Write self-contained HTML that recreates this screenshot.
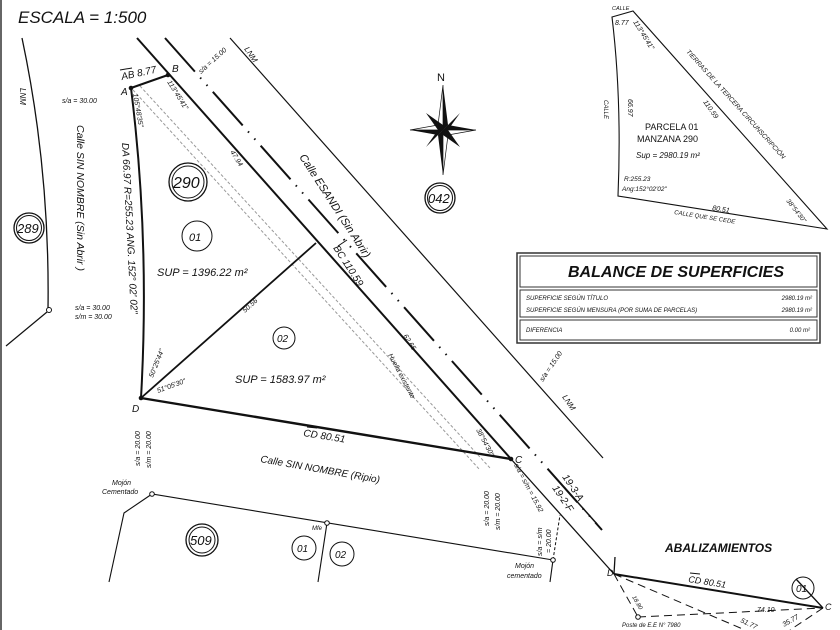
<!DOCTYPE html>
<html><head><meta charset="utf-8"><style>
body{margin:0;background:#fff}
svg{display:block}
text{font-family:"Liberation Sans",sans-serif;font-style:italic;fill:#111}
</style></head><body>
<svg width="840" height="630" viewBox="0 0 840 630" xmlns="http://www.w3.org/2000/svg">
<rect width="840" height="630" fill="#fff"/>
<line x1="1" y1="0" x2="1" y2="630" stroke="#333" stroke-width="1.5"/>
<text x="18" y="23" font-size="17">ESCALA = 1:500</text>

<path d="M22,38 Q50,170 48,310" fill="none" stroke="#111" stroke-width="1.3"/>
<circle cx="49" cy="310" r="2.5" fill="#fff" stroke="#111"/>
<line x1="47" y1="312" x2="6" y2="346" stroke="#111" stroke-width="1.2"/>
<text transform="translate(20,88) rotate(90)" font-size="8">LNM</text>
<text x="62" y="103" font-size="7">s/a = 30.00</text>
<text x="75" y="310" font-size="7">s/a = 30.00</text>
<text x="75" y="319" font-size="7">s/m = 30.00</text>
<text transform="translate(77,125) rotate(90)" font-size="10.5">Calle SIN NOMBRE (Sin Abrir )</text>

<line x1="137" y1="38" x2="511" y2="459" stroke="#111" stroke-width="2"/>
<line x1="511" y1="459" x2="614" y2="574" stroke="#111" stroke-width="1.3"/>
<line x1="165" y1="38" x2="602" y2="530" stroke="#111" stroke-width="2" stroke-dasharray="45 8 1.5 8 1.5 8"/>
<line x1="230" y1="38" x2="603" y2="458" stroke="#111" stroke-width="1.2"/>
<line x1="133" y1="90" x2="480" y2="470" stroke="#999" stroke-width="1" stroke-dasharray="3 2"/>
<line x1="140" y1="86" x2="490" y2="468" stroke="#999" stroke-width="1" stroke-dasharray="3 2"/>

<line x1="131" y1="88" x2="168" y2="75" stroke="#111" stroke-width="2"/>
<path d="M131,88 Q150,240 141,398" fill="none" stroke="#111" stroke-width="2"/>
<line x1="141" y1="398" x2="511" y2="459" stroke="#111" stroke-width="2.4"/>
<line x1="141" y1="398" x2="316" y2="243" stroke="#111" stroke-width="1.8"/>
<circle cx="131" cy="88" r="2.3" fill="#111"/><circle cx="168" cy="75" r="2.3" fill="#111"/>
<circle cx="141" cy="398" r="2.3" fill="#111"/><circle cx="511" cy="459" r="2.3" fill="#111"/>
<text x="121" y="95" font-size="10">A</text>
<text x="172" y="72" font-size="10">B</text>
<text x="132" y="412" font-size="10">D</text>
<text x="515" y="463" font-size="10">C</text>
<text x="122" y="80" font-size="10" transform="rotate(-12 122 80)">AB 8.77</text>
<line x1="120" y1="70" x2="132" y2="68" stroke="#111"/>
<text transform="translate(133,94) rotate(80)" font-size="7">105°48'35"</text>
<text transform="translate(167,82) rotate(58)" font-size="7">113°45'41"</text>
<text transform="translate(122,143) rotate(87)" font-size="10">DA 66.97 R=255.23 ANG. 152° 02' 02"</text>
<text transform="translate(230,152) rotate(58)" font-size="7">47.94</text>
<text transform="translate(299,157) rotate(57)" font-size="11">Calle ESANDI (Sin Abrir)</text>
<text transform="translate(201,74) rotate(-42)" font-size="7">s/a = 15.00</text>
<text transform="translate(244,49) rotate(56)" font-size="8">LNM</text>
<text transform="translate(333,248) rotate(57)" font-size="10">BC 110.59</text>
<line x1="338" y1="246" x2="347" y2="240" stroke="#111"/>
<text transform="translate(245,313) rotate(-42)" font-size="7">50.56</text>
<text transform="translate(403,336) rotate(57)" font-size="7">62.65</text>
<text transform="translate(388,355) rotate(62)" font-size="7">Huella existente</text>
<text transform="translate(476,430) rotate(62)" font-size="7">38°54'30"</text>
<text transform="translate(153,378) rotate(-68)" font-size="7">50°25'44"</text>
<text transform="translate(158,393) rotate(-20)" font-size="7">51°05'30"</text>
<text x="157" y="276" font-size="11">SUP = 1396.22 m²</text>
<text x="235" y="383" font-size="11">SUP = 1583.97 m²</text>
<text transform="translate(303,436) rotate(9)" font-size="10">CD 80.51</text>
<line x1="307" y1="427" x2="317" y2="428" stroke="#111"/>
<text transform="translate(260,462) rotate(10)" font-size="10">Calle SIN NOMBRE (Ripio)</text>
<text transform="translate(543,382) rotate(-56)" font-size="7">s/a = 15.00</text>
<text transform="translate(562,397) rotate(56)" font-size="8">LNM</text>
<text transform="translate(514,465) rotate(62)" font-size="7">s/a = s/m = 15.92</text>
<text transform="translate(562,477) rotate(56)" font-size="10">19-3-A</text>
<text transform="translate(552,488) rotate(56)" font-size="10">19-2-F</text>
<line x1="564" y1="487" x2="597" y2="524" stroke="#111" stroke-width="1.5"/>

<g fill="none" stroke="#111">
<circle cx="188" cy="182" r="19" stroke-width="1.3"/><circle cx="188" cy="182" r="16"/>
<circle cx="29" cy="228" r="15" stroke-width="1.3"/><circle cx="29" cy="228" r="12.5"/>
<circle cx="440" cy="198" r="15" stroke-width="1.3"/><circle cx="440" cy="198" r="12.5"/>
<circle cx="202" cy="540" r="16" stroke-width="1.3"/><circle cx="202" cy="540" r="13"/>
<circle cx="197" cy="236" r="15"/>
<circle cx="284" cy="338" r="11"/>
<circle cx="304" cy="548" r="12"/>
<circle cx="342" cy="554" r="12"/>
<circle cx="803" cy="588" r="11"/>
</g>
<text x="173" y="188" font-size="16">290</text>
<text x="17" y="233" font-size="13">289</text>
<text x="428" y="203" font-size="13">042</text>
<text x="190" y="545" font-size="13">509</text>
<text x="189" y="241" font-size="11">01</text>
<text x="277" y="342" font-size="10">02</text>
<text x="297" y="552" font-size="10">01</text>
<text x="335" y="558" font-size="10">02</text>
<text x="796" y="592" font-size="10">01</text>

<g transform="translate(443,130)">
<text x="-6" y="-49" font-size="11" style="font-style:normal">N</text>
<polygon points="0,-45 5,-5 0,0" fill="#111"/><polygon points="0,-45 -5,-5 0,0" fill="#fff" stroke="#111" stroke-width=".7"/>
<polygon points="0,45 -5,5 0,0" fill="#111"/><polygon points="0,45 5,5 0,0" fill="#fff" stroke="#111" stroke-width=".7"/>
<polygon points="-33,0 -5,5 0,0" fill="#111"/><polygon points="-33,0 -5,-5 0,0" fill="#fff" stroke="#111" stroke-width=".7"/>
<polygon points="33,0 5,-5 0,0" fill="#111"/><polygon points="33,0 5,5 0,0" fill="#fff" stroke="#111" stroke-width=".7"/>
<polygon points="-17,-17 0,-5 0,0 -5,0" fill="#111"/><polygon points="17,-17 5,0 0,0" fill="#111"/>
<polygon points="17,17 0,5 0,0 5,0" fill="#111"/><polygon points="-17,17 -5,0 0,0" fill="#111"/>
</g>

<polyline points="109,582 124,513 152,494 553,560" fill="none" stroke="#111" stroke-width="1.1"/>
<line x1="327" y1="523" x2="318" y2="582" stroke="#111" stroke-width="1.1"/>
<line x1="553" y1="560" x2="550" y2="582" stroke="#111" stroke-width="1.1"/>
<line x1="553" y1="560" x2="560" y2="515" stroke="#111" stroke-dasharray="3 2"/>
<circle cx="152" cy="494" r="2.3" fill="#fff" stroke="#111"/>
<circle cx="327" cy="523" r="2.3" fill="#fff" stroke="#111"/>
<circle cx="553" cy="560" r="2.3" fill="#fff" stroke="#111"/>
<text x="112" y="485" font-size="7">Mojón</text>
<text x="102" y="494" font-size="7">Cementado</text>
<text x="312" y="530" font-size="6">Mfe</text>
<text x="515" y="568" font-size="7">Mojón</text>
<text x="507" y="578" font-size="7">cementado</text>
<text transform="translate(140,466) rotate(-90)" font-size="7">s/a = 20.00</text>
<text transform="translate(151,468) rotate(-90)" font-size="7">s/m = 20.00</text>
<text transform="translate(489,526) rotate(-90)" font-size="7">s/a = 20.00</text>
<text transform="translate(500,530) rotate(-90)" font-size="7">s/m = 20.00</text>
<text transform="translate(542,556) rotate(-90)" font-size="7">s/a = s/m</text>
<text transform="translate(551,553) rotate(-90)" font-size="7">= 20.00</text>

<text x="665" y="552" font-size="12" font-weight="bold">ABALIZAMIENTOS</text>
<line x1="614" y1="574" x2="823" y2="608" stroke="#111" stroke-width="2"/>
<line x1="615" y1="557" x2="614" y2="574" stroke="#111" stroke-width="1.3"/>
<line x1="796" y1="579" x2="823" y2="608" stroke="#111" stroke-width="1.3"/>
<g stroke="#111" stroke-dasharray="8 5" fill="none">
<line x1="614" y1="574" x2="638" y2="617"/>
<line x1="638" y1="617" x2="823" y2="608"/>
<line x1="614" y1="574" x2="745" y2="630"/>
<line x1="823" y1="608" x2="790" y2="630"/>
</g>
<circle cx="638" cy="617" r="2.3" fill="#fff" stroke="#111"/>
<text x="607" y="576" font-size="9">D</text>
<text x="825" y="610" font-size="9">C</text>
<text transform="translate(688,582) rotate(9)" font-size="9">CD 80.51</text>
<line x1="690" y1="573" x2="700" y2="574" stroke="#111"/>
<text x="622" y="627" font-size="6">Poste de E.E N° 7980</text>
<text transform="translate(632,597) rotate(60)" font-size="6">18.80</text>
<text x="757" y="612" font-size="7">74.10</text>
<text transform="translate(740,622) rotate(25)" font-size="7">51.77</text>
<text transform="translate(784,627) rotate(-30)" font-size="7">35.77</text>

<path d="M612,17 L633,11 L827,229 L618,196 Q622,100 612,17 Z" fill="none" stroke="#111" stroke-width="1.1"/>
<text x="612" y="10" font-size="5.5">CALLE</text>
<text x="615" y="25" font-size="7">8.77</text>
<text transform="translate(633,22) rotate(58)" font-size="7">113°45'41"</text>
<text transform="translate(604,100) rotate(90)" font-size="6">CALLE</text>
<text transform="translate(628,99) rotate(90)" font-size="7">66.97</text>
<text transform="translate(686,52) rotate(48)" font-size="6.5">TIERRAS DE LA TERCERA CIRCUNSCRIPCIÓN</text>
<text transform="translate(703,102) rotate(55)" font-size="7">110.59</text>
<text x="645" y="130" font-size="9" style="font-style:normal">PARCELA 01</text>
<text x="637" y="142" font-size="9" style="font-style:normal">MANZANA 290</text>
<text x="636" y="158" font-size="8">Sup =  2980.19 m²</text>
<text x="624" y="181" font-size="6.5">R:255.23</text>
<text x="622" y="191" font-size="6.5">Ang:152°02'02"</text>
<text transform="translate(712,210) rotate(9)" font-size="7">80.51</text>
<text transform="translate(674,214) rotate(9)" font-size="6">CALLE QUE SE CEDE</text>
<text transform="translate(786,201) rotate(52)" font-size="6.5">38°54'30"</text>

<g fill="none" stroke="#333">
<rect x="517" y="253" width="303" height="90" stroke-width="1.5"/>
<rect x="520" y="256" width="297" height="31"/>
<rect x="520" y="290" width="297" height="27"/>
<rect x="520" y="320" width="297" height="20"/>
</g>
<text x="568" y="277" font-size="16" font-weight="bold">BALANCE DE SUPERFICIES</text>
<text x="526" y="300" font-size="6">SUPERFICIE SEGÚN TÍTULO</text>
<text x="526" y="312" font-size="6">SUPERFICIE SEGÚN MENSURA (POR SUMA DE PARCELAS)</text>
<text x="526" y="332" font-size="6">DIFERENCIA</text>
<text x="812" y="300" font-size="6" text-anchor="end">2980.19 m²</text>
<text x="812" y="312" font-size="6" text-anchor="end">2980.19 m²</text>
<text x="810" y="332" font-size="6" text-anchor="end">0.00 m²</text>
</svg>
</body></html>
